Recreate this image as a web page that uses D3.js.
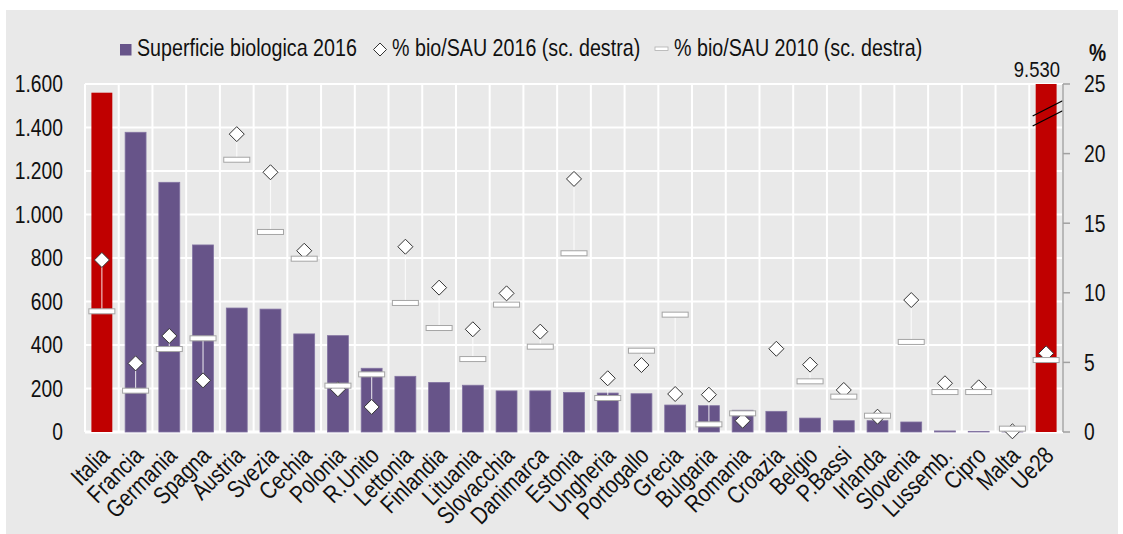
<!DOCTYPE html>
<html><head><meta charset="utf-8">
<script src="https://cdn.jsdelivr.net/npm/d3@7"></script>
<style>html,body{margin:0;padding:0;background:#fff;}svg{display:block;}</style>
</head><body>
<svg id="chart" width="1123" height="534"></svg>
<script>
const categories = ["Italia","Francia","Germania","Spagna","Austria","Svezia","Cechia","Polonia","R.Unito","Lettonia","Finlandia","Lituania","Slovacchia","Danimarca","Estonia","Ungheria","Portogallo","Grecia","Bulgaria","Romania","Croazia","Belgio","P.Bassi","Irlanda","Slovenia","Lussemb.","Cipro","Malta","Ue28"];
const superficie2016 = [1560,1378,1148,860,570,565,451,443,293,256,228,215,189,189,182,179,176,124,121,100,95,64,52,52,46,5,3,0.3,9530];
const bioSau2016 = [12.36,4.93,6.9,3.71,21.4,18.66,13.02,3.07,1.8,13.31,10.37,7.38,9.96,7.21,18.18,3.86,4.81,2.73,2.68,0.81,5.98,4.84,3.02,1.1,9.48,3.5,3.21,0.05,5.65];
const bioSau2010 = [8.67,2.97,5.96,6.73,19.56,14.37,12.45,3.33,4.14,9.27,7.47,5.24,9.15,6.13,12.84,2.44,5.84,8.43,0.55,1.34,null,3.64,2.54,1.17,6.47,2.87,2.87,0.24,5.17];
const highlighted = ["Italia","Ue28"];
const leftTicks = [0,200,400,600,800,1000,1200,1400,1600];
const rightTicks = [0,5,10,15,20,25];
const legendLabels = ["Superficie biologica 2016","% bio/SAU 2016 (sc. destra)","% bio/SAU 2010 (sc. destra)"];

const FONT = "'Liberation Sans',Arial,sans-serif";
const NARROW = 0.82;
const svg = d3.select("#chart");
const plot = {l:85, r:1063, t:84, b:432};
const cPurple = "#675489", cRed = "#c00000", cBg = "#e9e9e9";

function ntext(parent, px, py, str, o={}) {
  const rot = o.rotate ? ` rotate(${o.rotate})` : "";
  return parent.append("text")
    .attr("transform", `translate(${px},${py})${rot} scale(${NARROW},1)`)
    .attr("text-anchor", o.anchor || "start")
    .attr("dy", o.dy || null)
    .attr("font-family", FONT).attr("font-size", o.size || 23)
    .attr("font-weight", o.weight || null)
    .attr("fill", "#111").text(str);
}

svg.append("rect").attr("x",6).attr("y",10).attr("width",1112).attr("height",524).attr("fill",cBg);

const x = d3.scaleBand().domain(categories).range([plot.l, plot.r]).paddingInner(0.38).paddingOuter(0.19);
const yL = d3.scaleLinear().domain([0,1600]).range([plot.b, plot.t]);
const yR = d3.scaleLinear().domain([0,25]).range([plot.b, plot.t]);
const step = x.step();
const locale = d3.formatLocale({decimal:",", thousands:".", grouping:[3], currency:["",""]});
const fmt = locale.format(",d");

// grid
const g = svg.append("g");
g.selectAll("line.h").data(leftTicks).join("line")
  .attr("x1",plot.l).attr("x2",plot.r).attr("y1",d=>yL(d)).attr("y2",d=>yL(d))
  .attr("stroke","#fff").attr("stroke-width",d=>d===0?3:2);
const bounds = d3.range(categories.length+1).map(i=>plot.l + i*step);
g.selectAll("line.v").data(bounds).join("line")
  .attr("x1",d=>d).attr("x2",d=>d).attr("y1",plot.t).attr("y2",plot.b)
  .attr("stroke","#fff").attr("stroke-width",2);

// bars
svg.append("g").selectAll("rect").data(categories).join("rect")
  .attr("x",d=>x(d)).attr("width",x.bandwidth())
  .attr("y",(d,i)=>yL(Math.min(superficie2016[i],1600)))
  .attr("height",(d,i)=>plot.b - yL(Math.min(superficie2016[i],1600)))
  .attr("fill",d=>highlighted.includes(d)?cRed:cPurple)
  .attr("stroke",d=>highlighted.includes(d)?"none":"#8374a2").attr("stroke-width",0.8);

// break marks on Ue28
const ue = "Ue28";
const ux0 = x(ue)-3, ux1 = x(ue)+x.bandwidth()+6;
[0,10].forEach(off=>{
  svg.append("line").attr("x1",ux0).attr("y1",yL(1453)+off).attr("x2",ux1).attr("y2",yL(1523)+off)
    .attr("stroke","#000").attr("stroke-width",1.3);
});

// connectors
const cx = d=>x(d)+x.bandwidth()/2;
svg.append("g").selectAll("line").data(categories.filter((d,i)=>bioSau2010[i]!==null)).join("line")
  .attr("x1",cx).attr("x2",cx)
  .attr("y1",d=>yR(bioSau2016[categories.indexOf(d)]))
  .attr("y2",d=>yR(bioSau2010[categories.indexOf(d)]))
  .attr("stroke","#fff").attr("stroke-opacity",0.75).attr("stroke-width",1.2);

// diamonds
const ds = 7.5;
const diamondPath = (px,py,s)=>`M${px},${py-s}L${px+s},${py}L${px},${py+s}L${px-s},${py}Z`;
svg.append("g").selectAll("path").data(categories).join("path")
  .attr("d",(d,i)=>diamondPath(cx(d), yR(bioSau2016[i]), ds))
  .attr("fill","#fff").attr("stroke","#333").attr("stroke-width",1);

// dashes 2010
svg.append("g").selectAll("rect").data(categories.filter((d,i)=>bioSau2010[i]!==null)).join("rect")
  .attr("x",d=>cx(d)-13).attr("width",26)
  .attr("y",d=>yR(bioSau2010[categories.indexOf(d)])-2.5).attr("height",5)
  .attr("fill","#fff").attr("stroke","#a5a5a5").attr("stroke-width",1);

// left axis labels
const la = svg.append("g");
leftTicks.forEach(t=>ntext(la, 63, yL(t), fmt(t), {anchor:"end", dy:"0.36em", size:23.5}));

// right axis
const ra = svg.append("g");
ra.append("line").attr("x1",plot.r).attr("x2",plot.r).attr("y1",plot.t).attr("y2",plot.b).attr("stroke","#a0a0a0").attr("stroke-width",1.5);
ra.selectAll("line.t").data(rightTicks).join("line")
  .attr("x1",plot.r).attr("x2",plot.r+7).attr("y1",d=>yR(d)).attr("y2",d=>yR(d))
  .attr("stroke","#a0a0a0").attr("stroke-width",1.5);
rightTicks.forEach(t=>ntext(ra, plot.r+21, yR(t), String(t), {dy:"0.36em", size:23.5}));
ntext(svg, 1089, 61, "%", {weight:"bold", size:23.5});
ntext(svg, 1060, 77, fmt(superficie2016[categories.indexOf(ue)]), {anchor:"end", size:22.5});

// x labels
const xl = svg.append("g");
categories.forEach(c=>ntext(xl, cx(c)+3, 451, c, {anchor:"end", rotate:-45, dy:"0.35em", size:24.5}));

// legend
const lg = svg.append("g");
lg.append("rect").attr("x",120).attr("y",44).attr("width",11.5).attr("height",11.5).attr("fill",cPurple);
ntext(lg, 137, 56, legendLabels[0], {size:24});
lg.append("path").attr("d",diamondPath(380,49.5,6.5)).attr("fill","#fff").attr("stroke","#333");
ntext(lg, 392, 56, legendLabels[1], {size:24});
lg.append("rect").attr("x",655).attr("y",47).attr("width",13).attr("height",3.5).attr("fill","#fff").attr("stroke","#b0b0b0").attr("stroke-width",0.8);
ntext(lg, 674, 56, legendLabels[2], {size:24});
</script>
</body></html>
